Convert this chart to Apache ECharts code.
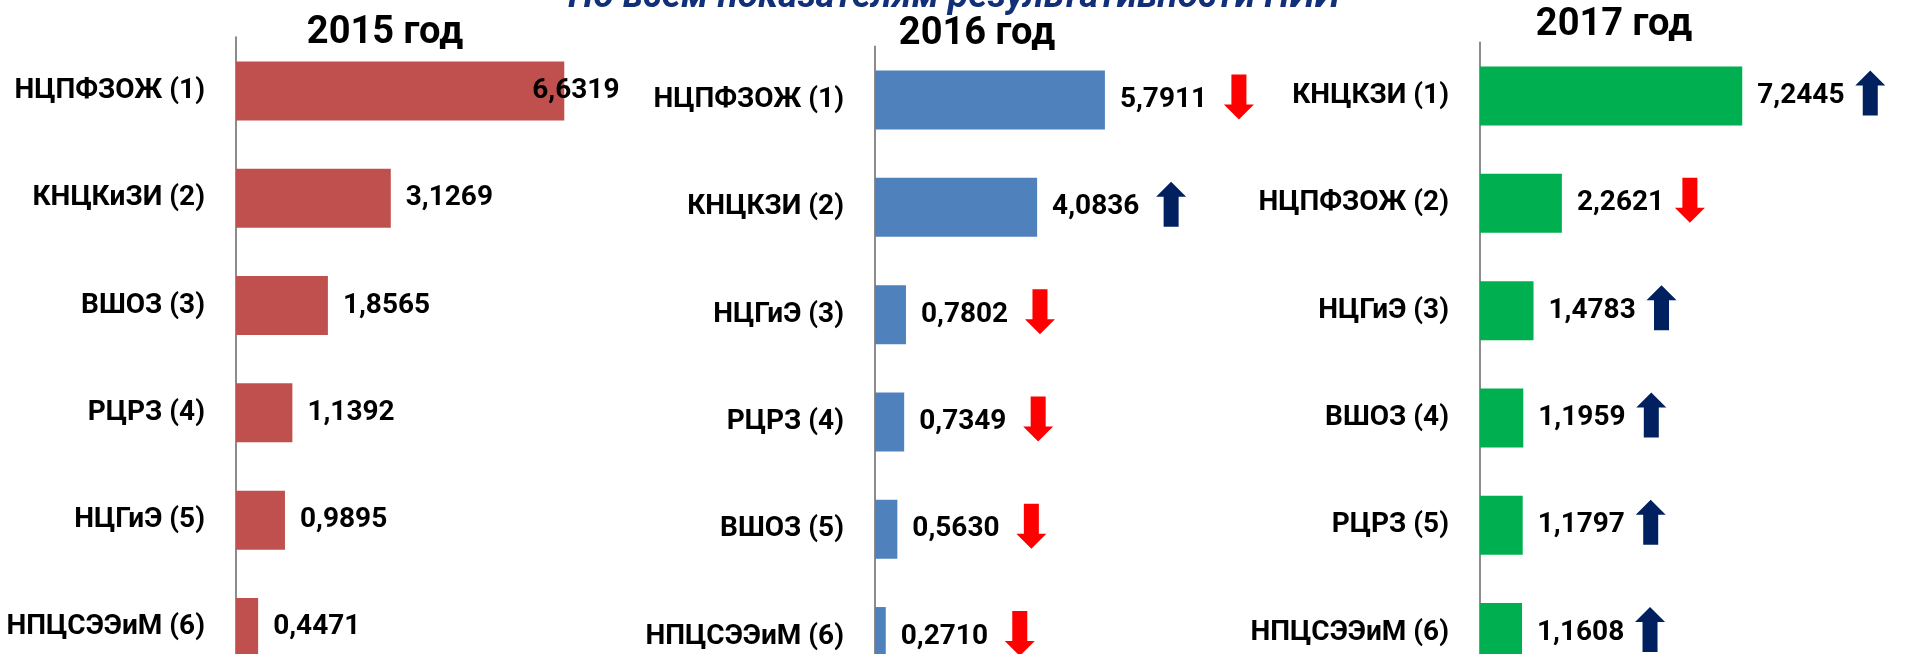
<!DOCTYPE html>
<html>
<head>
<meta charset="utf-8">
<script src="https://cdn.jsdelivr.net/npm/echarts@6/dist/echarts.min.js"></script>
<style>
html,body{margin:0;padding:0;background:#fff;overflow:hidden;}
#c{width:1915px;height:720px;}
</style>
</head>
<body>
<div id="c"></div>
<script>
// ---- data ----
var cats2015 = ['НЦПФЗОЖ (1)', 'КНЦКиЗИ (2)', 'ВШОЗ (3)', 'РЦРЗ (4)', 'НЦГиЭ (5)', 'НПЦСЭЭиМ (6)'];
var vals2015 = [6.6319, 3.1269, 1.8565, 1.1392, 0.9895, 0.4471];

var cats2016 = ['НЦПФЗОЖ (1)', 'КНЦКЗИ (2)', 'НЦГиЭ (3)', 'РЦРЗ (4)', 'ВШОЗ (5)', 'НПЦСЭЭиМ (6)'];
var vals2016 = [5.7911, 4.0836, 0.7802, 0.7349, 0.5630, 0.2710];
var trend2016 = ['down', 'up', 'down', 'down', 'down', 'down'];

var cats2017 = ['КНЦКЗИ (1)', 'НЦПФЗОЖ (2)', 'НЦГиЭ (3)', 'ВШОЗ (4)', 'РЦРЗ (5)', 'НПЦСЭЭиМ (6)'];
var vals2017 = [7.2445, 2.2621, 1.4783, 1.1959, 1.1797, 1.1608];
var trend2017 = ['up', 'down', 'up', 'up', 'up', 'up'];

var titles = ['2015 год', '2016 год', '2017 год'];
var headline = 'По всем показателям результативности НИИ';

// ---- styling ----
var FONT = 'Roboto';
var UP = 'path://M15,0 L30,15 L22.5,15 L22.5,45 L7.5,45 L7.5,15 L0,15 Z';
var DOWN = 'path://M7.5,0 L22.5,0 L22.5,30 L30,30 L15,45 L0,30 L7.5,30 Z';

function fmt(v) { return v.toFixed(4).replace('.', ','); }

var chart = echarts.init(document.getElementById('c'), null, {renderer: 'canvas'});

var panels = [
  {cats: cats2015, vals: vals2015, trend: null, color: '#C0504D', left: 236, top: 37.3, width: 495, arrowShift: 0},
  {cats: cats2016, vals: vals2016, trend: trend2016, color: '#4F81BD', left: 875, top: 46.4, width: 397, arrowShift: 134},
  {cats: cats2017, vals: vals2017, trend: trend2017, color: '#00B050', left: 1480, top: 42.4, width: 362, arrowShift: 128}
];
var BAND = 107.3;

var grids = [], xAxes = [], yAxes = [], series = [];
panels.forEach(function (p, i) {
  grids.push({left: p.left, top: p.top, width: p.width, height: BAND * p.cats.length, containLabel: false});
  xAxes.push({type: 'value', gridIndex: i, min: 0, max: 10, show: false});
  yAxes.push({
    type: 'category', gridIndex: i, data: p.cats, inverse: true,
    axisLine: {show: true, lineStyle: {color: '#8c8c8c', width: 2}},
    axisTick: {show: false},
    axisLabel: {margin: 31, color: '#000', fontFamily: FONT, fontWeight: 'bold', fontSize: 28},
    splitLine: {show: false}
  });
  series.push({
    type: 'bar', xAxisIndex: i, yAxisIndex: i,
    barWidth: 59,
    itemStyle: {color: p.color},
    label: {
      show: true, position: 'right', distance: 15,
      color: '#000', fontFamily: FONT, fontWeight: 'bold', fontSize: 28,
      formatter: function (d) { return fmt(d.value); }
    },
    data: p.vals.map(function (v, k) {
      // first 2015 bar: label pulled back over the bar end, as in the original
      if (i === 0 && k === 0) return {value: v, label: {offset: [-47, 0]}};
      return v;
    }),
    silent: true, animation: false
  });
  if (p.trend) {
    series.push({
      type: 'scatter', xAxisIndex: i, yAxisIndex: i,
      symbolSize: [30, 45],
      data: p.vals.map(function (v, k) {
        var up = p.trend[k] === 'up';
        return {
          value: [v, k],
          symbol: up ? UP : DOWN,
          symbolOffset: [p.arrowShift, -3],
          itemStyle: {color: up ? '#002060' : '#FF0000', opacity: 1}
        };
      }),
      silent: true, animation: false, z: 5
    });
  }
});

var graphics = [
  {type: 'text', left: 568, top: -21, style: {text: headline, fill: '#12307a', font: 'italic bold 37px ' + FONT}},
  {type: 'text', x: 385, y: 33, style: {text: titles[0], fill: '#000', font: 'bold 38px ' + FONT, align: 'center', verticalAlign: 'middle'}},
  {type: 'text', x: 977, y: 34, style: {text: titles[1], fill: '#000', font: 'bold 38px ' + FONT, align: 'center', verticalAlign: 'middle'}},
  {type: 'text', x: 1614, y: 25, style: {text: titles[2], fill: '#000', font: 'bold 38px ' + FONT, align: 'center', verticalAlign: 'middle'}}
];

chart.setOption({
  animation: false,
  grid: grids, xAxis: xAxes, yAxis: yAxes, series: series,
  graphic: graphics
});
</script>
</body>
</html>
